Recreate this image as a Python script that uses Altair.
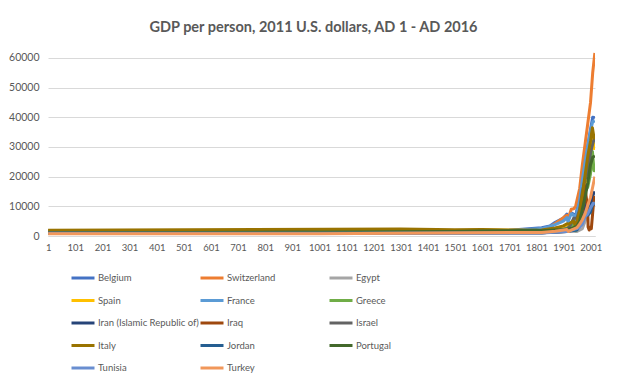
import altair as alt
import pandas as pd

COUNTRIES = ["Belgium", "Switzerland", "Egypt", "Spain", "France", "Greece",
             "Iran (Islamic Republic of)", "Iraq", "Israel", "Italy", "Jordan",
             "Portugal", "Tunisia", "Turkey"]
COLORS = ["#4472C4", "#ED7D31", "#A5A5A5", "#FFC000", "#5B9BD5", "#70AD47",
          "#264478", "#9E480E", "#636363", "#997300", "#255E91", "#43682B",
          "#698ED0", "#F1975A"]

belgium = [(1, 900), (1000, 900), (1500, 1400), (1600, 1700), (1700, 1900), (1820, 2800),
           (1850, 3400), (1870, 4600), (1900, 6000), (1913, 7400), (1918, 5000), (1920, 6400),
           (1929, 7800), (1938, 7400), (1944, 5500), (1950, 9000), (1960, 12000), (1970, 18500),
           (1980, 25000), (1990, 30500), (2000, 36000), (2008, 40000), (2016, 39800)]
switzerland = [(1, 900), (1500, 1300), (1700, 1700), (1820, 2300), (1851, 3000), (1870, 4200),
               (1900, 6200), (1913, 7000), (1918, 6000), (1929, 9000), (1938, 9200), (1945, 10000),
               (1950, 12000), (1960, 16000), (1970, 24000), (1980, 31000), (1990, 38000),
               (2000, 45000), (2008, 55000), (2016, 61700)]
egypt = [(1, 1100), (730, 1100), (1000, 1100), (1820, 1000), (1870, 1400), (1913, 1700),
         (1950, 1500), (1970, 2500), (1980, 5000), (1990, 7500), (2000, 8500), (2008, 10500),
         (2016, 11300)]
spain = [(1, 1500), (1252, 1600), (1500, 1800), (1600, 2000), (1700, 1900), (1800, 2100),
         (1820, 2000), (1870, 2500), (1900, 3000), (1913, 3700), (1929, 4500), (1936, 3500),
         (1940, 3300), (1950, 3900), (1960, 5500), (1970, 10000), (1975, 15000), (1980, 16500),
         (1990, 21500), (2000, 27500), (2007, 33000), (2013, 29500), (2016, 31500)]
france = [(1, 1200), (1000, 1000), (1500, 1400), (1700, 1800), (1820, 2500), (1850, 3200),
          (1870, 3800), (1900, 5000), (1913, 6200), (1918, 4500), (1920, 5500), (1929, 7500),
          (1938, 7000), (1944, 4500), (1950, 8000), (1960, 12000), (1970, 19000), (1980, 25000),
          (1990, 30500), (2000, 35500), (2008, 38500), (2016, 38800)]
greece = [(1, 1300), (1000, 1200), (1820, 1500), (1870, 1800), (1913, 2600), (1929, 3500),
          (1938, 4000), (1945, 1800), (1950, 3500), (1960, 5500), (1970, 10000), (1980, 15000),
          (1990, 16500), (2000, 21000), (2007, 28500), (2013, 22000), (2016, 22500)]
iran = [(1, 1000), (1000, 1000), (1820, 1200), (1900, 1500), (1950, 2500), (1960, 4000),
        (1970, 8000), (1976, 14000), (1980, 9000), (1988, 7000), (2000, 10000), (2010, 14000),
        (2016, 15000)]
iraq = [(1, 1000), (730, 1100), (1000, 1000), (1820, 1100), (1913, 1500), (1950, 2500),
        (1960, 5000), (1970, 8000), (1979, 17000), (1980, 16000), (1990, 9000), (1991, 3000),
        (1995, 2000), (2000, 3000), (2003, 2500), (2010, 10000), (2016, 13500)]
israel = [(1, 1800), (800, 1800), (1000, 1300), (1820, 1300), (1870, 1500), (1913, 2500),
          (1922, 3000), (1938, 6000), (1950, 6000), (1960, 9000), (1970, 15000), (1980, 19000),
          (1990, 22000), (2000, 28000), (2008, 31000), (2016, 33500)]
italy = [(1, 1900), (1300, 2400), (1500, 2100), (1600, 2200), (1700, 2000), (1800, 1900),
         (1820, 2000), (1870, 2700), (1900, 3400), (1913, 4100), (1920, 4000), (1929, 4600),
         (1938, 5000), (1945, 3200), (1950, 5000), (1960, 8400), (1970, 14000), (1980, 20500),
         (1990, 27000), (2000, 32000), (2007, 36500), (2013, 33000), (2016, 34000)]
jordan = [(1, 1000), (1000, 1000), (1820, 1100), (1913, 1500), (1950, 2000), (1960, 3500),
          (1970, 4500), (1980, 8000), (1990, 7000), (2000, 8000), (2008, 11000), (2016, 10500)]
portugal = [(1, 1000), (1500, 1500), (1600, 1700), (1700, 1800), (1800, 1900), (1820, 1800),
            (1870, 2000), (1913, 2200), (1929, 2500), (1950, 3300), (1960, 5000), (1970, 9000),
            (1980, 13000), (1990, 18000), (2000, 24000), (2008, 26500), (2016, 27000)]
tunisia = [(1, 900), (1000, 900), (1820, 1000), (1913, 1500), (1950, 2500), (1960, 3000),
           (1970, 4000), (1980, 6500), (1990, 7500), (2000, 9500), (2010, 11000), (2016, 11000)]
turkey = [(1, 800), (1000, 800), (1820, 1200), (1870, 1600), (1913, 2200), (1918, 1500),
          (1929, 2000), (1950, 2800), (1960, 4000), (1970, 5500), (1980, 7500), (1990, 10500),
          (2000, 13000), (2008, 16500), (2016, 20000)]

SERIES = [belgium, switzerland, egypt, spain, france, greece, iran, iraq, israel,
          italy, jordan, portugal, tunisia, turkey]
X_TICKS = list(range(1, 2017, 100))
Y_TICKS = list(range(0, 60001, 10000))

rows = []
for i, (name, pts) in enumerate(zip(COUNTRIES, SERIES)):
    for yr, v in pts:
        rows.append({"country": name, "year": yr, "gdp": v, "order": i})
df = pd.DataFrame(rows)

FONT = "Lato"
GREY = "#595959"

chart = alt.Chart(df).mark_line(strokeWidth=3, strokeJoin="round", clip=True).encode(
    x=alt.X("year:Q",
            scale=alt.Scale(domain=[0.5, 2016.5], nice=False, zero=False),
            axis=alt.Axis(values=X_TICKS, format="d", title=None, grid=False, ticks=False,
                          domainColor="#D9D9D9", labelColor=GREY, labelFont=FONT,
                          labelFontSize=9.5, labelPadding=6, labelFlush=False)),
    y=alt.Y("gdp:Q",
            scale=alt.Scale(domain=[0, 62000], nice=False),
            axis=alt.Axis(values=Y_TICKS, format="d", title=None, ticks=False, domain=False,
                          gridColor="#D9D9D9", labelColor=GREY, labelFont=FONT,
                          labelFontSize=10.5, labelPadding=9)),
    color=alt.Color("country:N",
                    scale=alt.Scale(domain=COUNTRIES, range=COLORS),
                    legend=alt.Legend(title=None, orient="none", legendX=22, legendY=213,
                                      direction="horizontal",
                                      columns=3, gridAlign="all", columnPadding=-12,
                                      rowPadding=3.5, symbolType="stroke", symbolSize=529,
                                      symbolStrokeWidth=3, labelFont=FONT,
                                      labelFontSize=9.5, labelColor=GREY, labelOffset=2,
                                      labelLimit=200)),
    order=alt.Order("order:Q"),
    detail="country:N",
).properties(
    width=547,
    height=184,
    title=alt.TitleParams("GDP per person, 2011 U.S. dollars, AD 1 - AD 2016",
                          font=FONT, fontSize=14.5, fontWeight="bold", color=GREY,
                          anchor="middle", offset=17, dx=-8),
    padding={"left": 0, "top": 11, "right": 5, "bottom": 5},
).configure_view(stroke=None)

chart.save("out.html", embed_options={"renderer": "svg", "actions": False})
